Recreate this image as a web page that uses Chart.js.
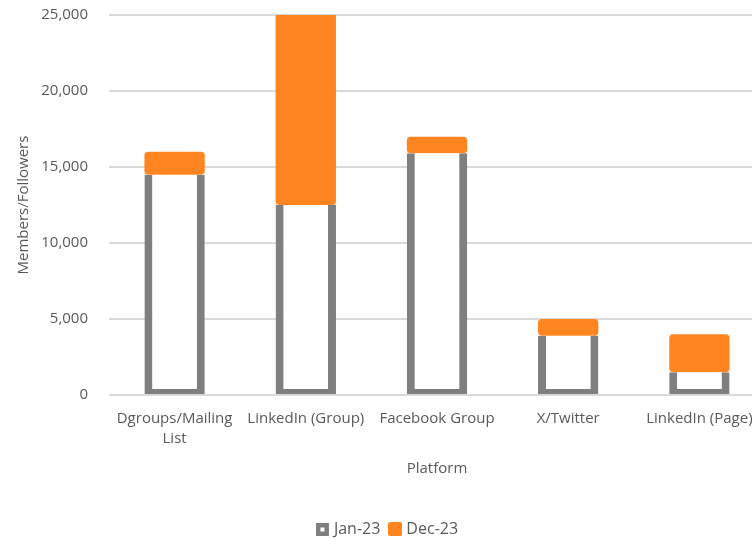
<!DOCTYPE html>
<html lang="en">
<head>
  <meta charset="UTF-8" />
  <title>Members/Followers by Platform</title>
  <script src="https://cdn.jsdelivr.net/npm/chart.js"></script>
  <style>
    html, body { margin: 0; padding: 0; background: #fff; overflow: hidden; }
    #wrap { width: 778px; height: 538px; }
  </style>
</head>
<body>
  <div id="wrap">
    <canvas id="platformChart"></canvas>
  </div>

  <script>
    // Datos
    const platforms = [["Dgroups/Mailing", "List"], "LinkedIn (Group)", "Facebook Group", "X/Twitter", "LinkedIn (Page)"];
    const jan23 = [14500, 12500, 15900, 3900, 1500];
    // crecimiento hasta Dec-23 (apilado encima de Jan-23)
    const dec23 = [1500, 13000, 1100, 1100, 2500];
    const yTicks = [0, 5000, 10000, 15000, 20000, 25000];

    const textColor = "#595959";
    const gridColor = "#d9d9d9";
    const janColor = "#7f7f7f";
    const decColor = "#ff8521";
    const fontFamily = "'Open Sans', 'Noto Sans', sans-serif";

    // cuadritos de la leyenda
    function swatch(hollow, color) {
      const c = document.createElement("canvas");
      c.width = 14; c.height = 14;
      const g = c.getContext("2d");
      g.fillStyle = color;
      if (hollow) {
        g.fillRect(0, 1, 13, 13);
        g.fillStyle = "#ffffff";
        g.fillRect(4.5, 5.5, 4, 4);
      } else {
        g.beginPath();
        g.roundRect(0, 0, 14, 14, 2);
        g.fill();
      }
      return c;
    }
    const legendIcons = [swatch(true, janColor), swatch(false, decColor)];

    const ctx = document.getElementById("platformChart").getContext("2d");
    new Chart(ctx, {
      type: "bar",
      data: {
        labels: platforms,
        datasets: [
          {
            label: "Jan-23",
            data: jan23,
            backgroundColor: "#ffffff",
            borderColor: janColor,
            borderWidth: { left: 8, right: 8, bottom: 5, top: 0 },
            borderSkipped: "end"
          },
          {
            label: "Dec-23",
            data: dec23,
            backgroundColor: decColor,
            borderWidth: 0,
            borderSkipped: false,
            borderRadius: { topLeft: 4, topRight: 4, bottomLeft: 4, bottomRight: 4 }
          }
        ]
      },
      options: {
        responsive: true,
        maintainAspectRatio: false,
        animation: false,
        layout: { padding: { top: 15, right: 0, left: 0, bottom: -9 } },
        datasets: { bar: { categoryPercentage: 1, barPercentage: 0.46 } },
        plugins: {
          tooltip: { enabled: false },
          legend: {
            position: "bottom",
            labels: {
              color: textColor,
              font: { family: fontFamily, size: 16 },
              usePointStyle: true,
              pointStyleWidth: 6,
              padding: 12,
              generateLabels: chart => chart.data.datasets.map((ds, i) => ({
                text: ds.label,
                pointStyle: legendIcons[i],
                fontColor: textColor,
                lineWidth: 0,
                datasetIndex: i
              }))
            }
          }
        },
        scales: {
          x: {
            stacked: true,
            grid: { display: false },
            border: { display: false },
            ticks: {
              color: textColor,
              font: { family: fontFamily, size: 15, lineHeight: 1.33 },
              padding: 6,
              maxRotation: 0,
              autoSkip: false
            },
            title: {
              display: true,
              text: "Platform",
              color: textColor,
              font: { family: fontFamily, size: 15 },
              padding: { top: 5, bottom: 31 }
            }
          },
          y: {
            stacked: true,
            min: 0,
            max: 25000,
            afterBuildTicks: scale => { scale.ticks = yTicks.map(v => ({ value: v })); },
            afterFit: scale => { scale.width = 109; },
            // marcas invisibles para separar las etiquetas del área
            grid: { color: gridColor, lineWidth: 2, drawTicks: true, tickLength: 20, tickColor: "rgba(0,0,0,0)" },
            border: { display: false },
            ticks: {
              color: textColor,
              font: { family: fontFamily, size: 15 },
              padding: 1,
              callback: v => v.toLocaleString("en-US")
            },
            title: {
              display: true,
              text: "Members/Followers",
              color: textColor,
              font: { family: fontFamily, size: 15 },
              padding: { top: 15, bottom: 0 }
            }
          },
          // eje vacío a la derecha: deja el margen sin descentrar la leyenda
          yRight: {
            position: "right",
            display: true,
            grid: { display: false },
            border: { display: false },
            ticks: { display: false },
            afterFit: scale => { scale.width = 13; }
          }
        }
      }
    });
  </script>
</body>
</html>
